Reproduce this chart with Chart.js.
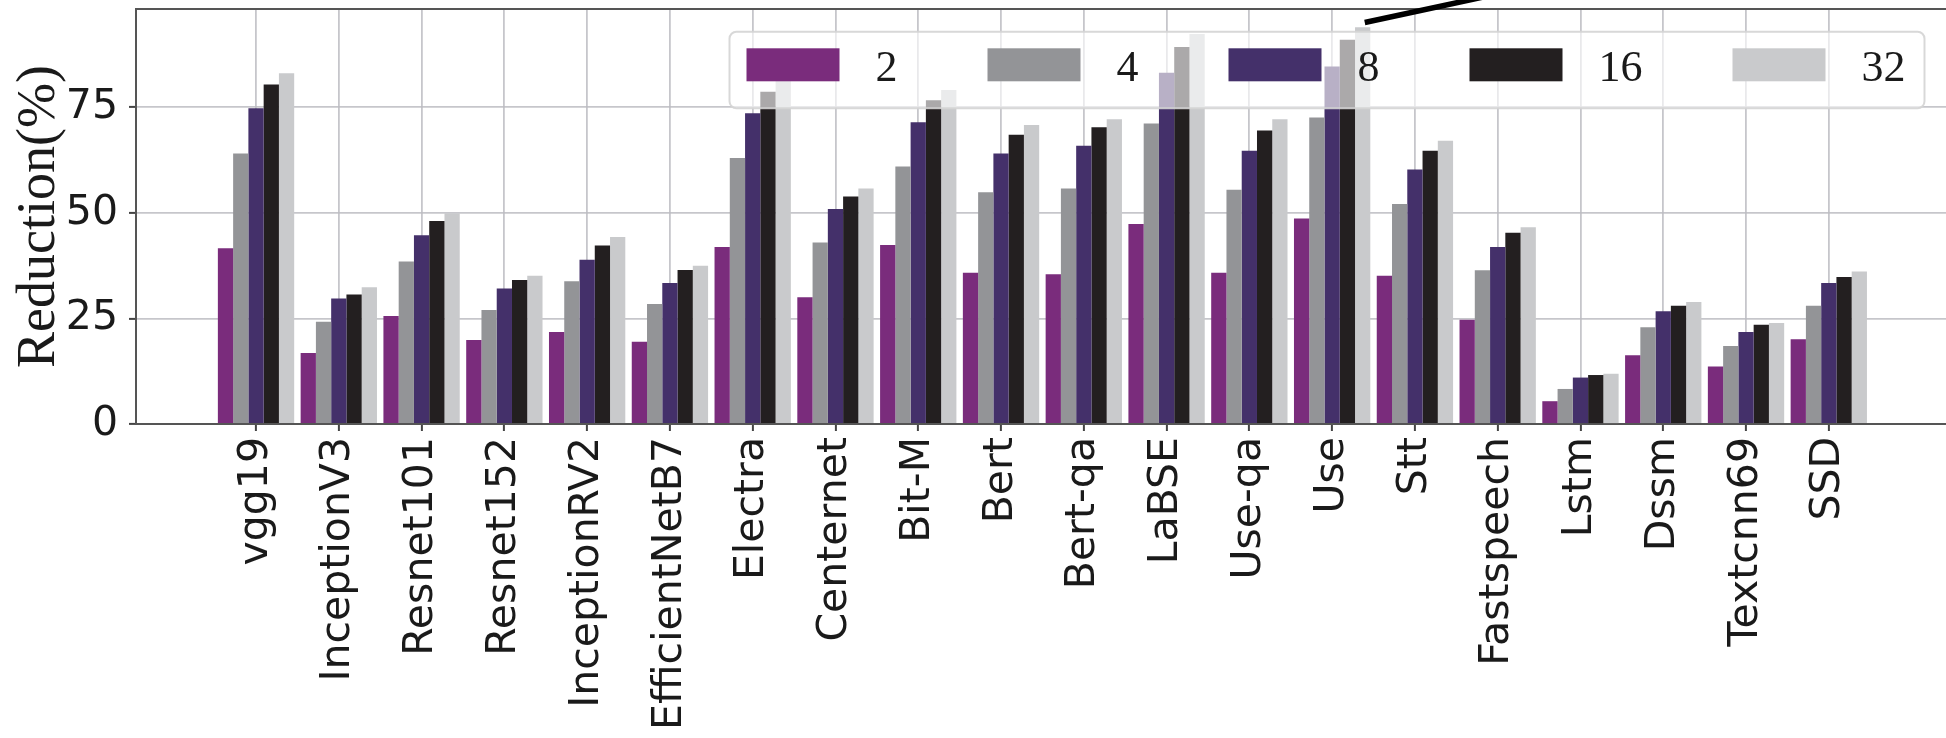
<!DOCTYPE html>
<html>
<head>
<meta charset="utf-8">
<script src="https://cdn.jsdelivr.net/npm/chart.js@4.4.1/dist/chart.umd.min.js"></script>
<style>
  html, body { margin: 0; padding: 0; background: #fff; overflow: hidden; }
  #wrap { position: absolute; left: 0; top: 0; width: 1960px; height: 738px; }
</style>
</head>
<body>
<div id="wrap"><canvas id="chart" width="1960" height="738"></canvas></div>
<script>
// --- data ---
const categories = ['vgg19', 'InceptionV3', 'Resnet101', 'Resnet152', 'InceptionRV2', 'EfficientNetB7',
    'Electra', 'Centernet', 'Bit-M', 'Bert', 'Bert-qa', 'LaBSE', 'Use-qa', 'Use', 'Stt',
    'Fastspeech', 'Lstm', 'Dssm', 'Textcnn69', 'SSD'];
const seriesLabels = ['2', '4', '8', '16', '32'];
const red2  = [41.6, 16.8, 25.6, 19.9, 21.8, 19.5, 41.9, 30.0, 42.4, 35.8, 35.5, 47.4, 35.8, 48.7, 35.1, 24.7, 5.4, 16.3, 13.6, 20.1];
const red4  = [64.1, 24.2, 38.5, 27.0, 33.8, 28.4, 63.0, 43.0, 61.0, 54.9, 55.8, 71.2, 55.5, 72.6, 52.1, 36.4, 8.3, 22.9, 18.5, 28.0];
const red8  = [74.8, 29.7, 44.7, 32.1, 38.9, 33.4, 73.6, 50.9, 71.5, 64.1, 65.9, 83.2, 64.7, 84.7, 60.3, 41.9, 11.0, 26.7, 21.8, 33.4];
const red16 = [80.4, 30.7, 48.1, 34.1, 42.3, 36.5, 78.7, 53.9, 76.7, 68.5, 70.3, 89.3, 69.5, 91.0, 64.7, 45.3, 11.6, 28.0, 23.5, 34.8];
const red32 = [83.1, 32.4, 49.9, 35.1, 44.3, 37.5, 82.0, 55.8, 79.1, 70.8, 72.2, 92.4, 72.2, 94.0, 67.1, 46.6, 11.9, 28.9, 23.9, 36.1];
const yTicks = [0, 25, 50, 75];

const colors = ['#7a2c7c', '#939497', '#44306a', '#231f20', '#c9cacc'];
const allSeries = [red2, red4, red8, red16, red32];

const datasets = allSeries.map((vals, k) => ({
    label: seriesLabels[k],
    data: vals.map((v, i) => ({ x: i, y: v })),
    backgroundColor: colors[k],
    borderWidth: 0,
    categoryPercentage: 0.922,
    barPercentage: 1.0
}));

// top spine, legend box and the cut-off annotation arrow
const extras = {
    id: 'extras',
    afterDraw(chart) {
        const ctx = chart.ctx;
        const area = chart.chartArea;
        ctx.save();

        // top spine
        ctx.strokeStyle = '#555';
        ctx.lineWidth = 2;
        ctx.beginPath();
        ctx.moveTo(area.left, area.top);
        ctx.lineTo(area.right + 20, area.top);
        ctx.stroke();

        // legend (single row, upper right, translucent frame)
        const ds = chart.data.datasets;
        ctx.font = '44px "Liberation Serif"';
        const patchW = 93, patchH = 33, textPad = 36, colGap = 90, padL = 17, padR = 19;
        const widths = ds.map(d => ctx.measureText(d.label).width);
        const total = padL + padR + ds.length * (patchW + textPad)
            + widths.reduce((a, b) => a + b, 0) + (ds.length - 1) * colGap;
        const right = area.right - 23.5;
        const top = area.top + 22.7;
        const h = 76.6;
        const left = right - total;
        ctx.beginPath();
        ctx.roundRect(left, top, total, h, 7);
        ctx.fillStyle = 'rgba(255,255,255,0.62)';
        ctx.fill();
        ctx.strokeStyle = 'rgba(212,212,212,0.9)';
        ctx.lineWidth = 2;
        ctx.stroke();
        let x = left + padL;
        ds.forEach((d, i) => {
            ctx.fillStyle = d.backgroundColor;
            ctx.fillRect(x, top + 16.6, patchW, patchH);
            x += patchW + textPad;
            ctx.fillStyle = '#1a1a1a';
            ctx.textAlign = 'left';
            ctx.textBaseline = 'alphabetic';
            ctx.fillText(d.label, x, top + 49.3);
            x += widths[i] + colGap;
        });

        // annotation arrow (cut off by the figure edge)
        const xs = chart.scales.x, ys = chart.scales.y;
        const x0 = xs.getPixelForValue(13.394);
        const y0 = ys.getPixelForValue(95.1);
        ctx.strokeStyle = '#000';
        ctx.lineWidth = 5.5;
        ctx.beginPath();
        ctx.moveTo(x0, y0);
        ctx.lineTo(x0 + 300, y0 - 300 * 0.215);
        ctx.stroke();

        ctx.restore();
    }
};

new Chart(document.getElementById('chart'), {
    type: 'bar',
    data: { datasets },
    options: {
        responsive: false,
        animation: false,
        layout: { padding: { left: 0, top: 9, right: 12, bottom: 0 } },
        plugins: { legend: { display: false }, tooltip: { enabled: false } },
        scales: {
            x: {
                type: 'linear',
                min: -1.45,
                max: 20.44,
                offset: false,
                z: 1,
                grid: { offset: false, color: 'rgba(188,188,194,0.85)', lineWidth: 1.8,
                        tickLength: 7, tickColor: '#444', tickWidth: 2 },
                border: { color: '#555', width: 2 },
                ticks: {
                    autoSkip: false,
                    minRotation: 90, maxRotation: 90,
                    padding: 6,
                    color: '#1a1a1a',
                    font: { family: 'DejaVu Sans', size: 41 },
                    callback: (v) => categories[v]
                },
                afterBuildTicks: (s) => { s.ticks = categories.map((c, i) => ({ value: i })); },
                afterFit: (s) => { s.height = 314; s.paddingLeft = 0; s.paddingRight = 0; }
            },
            y: {
                min: 0,
                max: 98.3,
                z: 1,
                grid: { color: 'rgba(188,188,194,0.85)', lineWidth: 1.8,
                        tickLength: 7, tickColor: '#444', tickWidth: 2 },
                border: { color: '#555', width: 2 },
                ticks: {
                    padding: 11,
                    color: '#1a1a1a',
                    font: { family: 'DejaVu Sans', size: 41 }
                },
                afterBuildTicks: (s) => { s.ticks = yTicks.map(v => ({ value: v })); },
                afterFit: (s) => { s.width = 136; s.paddingTop = 0; s.paddingBottom = 0; },
                title: {
                    display: true,
                    text: 'Reduction(%)',
                    color: '#1a1a1a',
                    font: { family: 'Liberation Serif', size: 54, lineHeight: 1 },
                    padding: { top: 13, bottom: 0 }
                }
            }
        }
    },
    plugins: [extras]
});
</script>
</body>
</html>
